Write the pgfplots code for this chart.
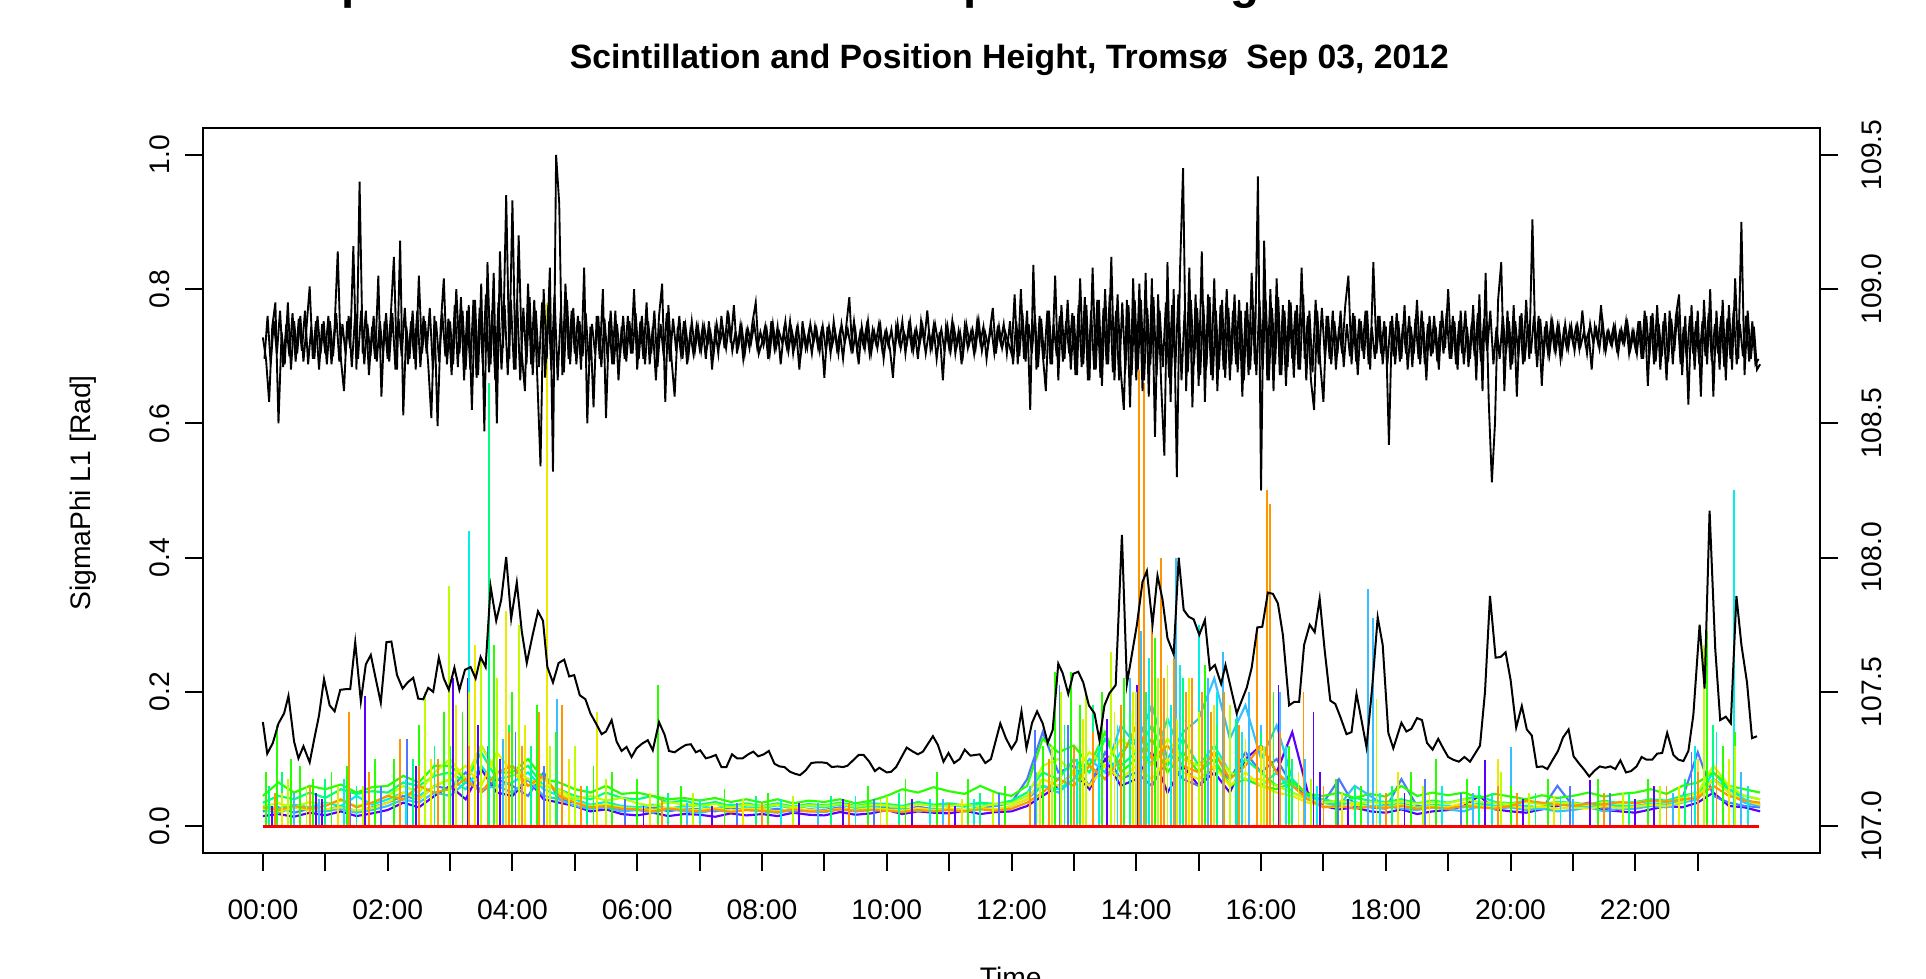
\documentclass[border=0pt]{standalone}
\usepackage{fontspec}
\setmainfont{Liberation Sans}
\usepackage{pgfplots}
\pgfplotsset{compat=1.18}

\definecolor{cV}{RGB}{90,0,255}
\definecolor{cB}{RGB}{75,120,255}
\definecolor{cS}{RGB}{56,190,255}
\definecolor{cC}{RGB}{0,240,230}
\definecolor{cP}{RGB}{0,255,128}
\definecolor{cG}{RGB}{40,255,0}
\definecolor{cL}{RGB}{190,255,0}
\definecolor{cY}{RGB}{235,235,0}
\definecolor{cO}{RGB}{255,150,0}

\pgfplotsset{
 rframe/.style={at={(0pt,0pt)},anchor=south west,scale only axis,
  width=606.375pt,height=271.875pt,xmin=-0.96,xmax=24.96,
  tick align=outside,major tick length=6.75pt,
  tick style={line width=0.75pt,black},
  axis line style={-,line width=1.1pt},
  tick label style={font=\fontsize{10.6}{12}\selectfont}},
 base/.style={line width=0.8pt},
 spk/.style={ycomb,line width=0.7pt},
}

\begin{document}
\begin{tikzpicture}
\path[use as bounding box] (-76.125pt,-47.25pt) rectangle (646.125pt,319.875pt);

% sigma phi per satellite, smooth reference line, zero line
\begin{axis}[rframe,
 ymin=-0.04,ymax=1.04,
 xtick={0,...,23},
 xticklabels={00:00,,02:00,,04:00,,06:00,,08:00,,10:00,,12:00,,14:00,,16:00,,18:00,,20:00,,22:00,},
 xticklabel style={yshift=-7.35pt},
 xtick pos=left,ytick pos=left,
 ytick={0,0.2,0.4,0.6,0.8,1},
 yticklabel style={xshift=-2.25pt,rotate=90,anchor=south,
  /pgf/number format/fixed,/pgf/number format/fixed zerofill,
  /pgf/number format/precision=1,/pgf/number format/assume math mode=true},
]
\addplot[base,cV] table[x expr=\coordindex*0.25,y index=0,header=false,row sep=\\]{
.015\\.018\\.014\\.020\\.016\\.022\\.015\\.019\\.024\\.035\\.028\\.045\\.060\\.040\\.085\\.050\\.045\\.070\\.040\\.035\\.030\\.022\\.025\\.018\\
.016\\.020\\.015\\.018\\.017\\.014\\.019\\.016\\.018\\.015\\.020\\.017\\.016\\.021\\.017\\.019\\.024\\.018\\.022\\.020\\.019\\.023\\.018\\.021\\
.022\\.030\\.045\\.060\\.080\\.055\\.100\\.060\\.070\\.110\\.050\\.090\\.060\\.080\\.050\\.100\\.120\\.080\\.140\\.050\\.030\\.025\\.028\\.022\\
.020\\.025\\.018\\.022\\.024\\.030\\.045\\.025\\.022\\.020\\.025\\.030\\.035\\.028\\.024\\.022\\.020\\.025\\.030\\.028\\.035\\.050\\.030\\.028\\.022\\
};
\addplot[base,cB] table[x expr=\coordindex*0.25,y index=0,header=false,row sep=\\]{
.022\\.028\\.020\\.026\\.024\\.030\\.022\\.028\\.035\\.045\\.040\\.060\\.055\\.080\\.050\\.070\\.060\\.045\\.080\\.040\\.035\\.028\\.030\\.025\\
.024\\.028\\.022\\.026\\.025\\.022\\.027\\.024\\.023\\.026\\.021\\.025\\.024\\.028\\.022\\.026\\.027\\.023\\.029\\.025\\.026\\.024\\.028\\.030\\
.035\\.070\\.140\\.080\\.090\\.060\\.110\\.070\\.080\\.060\\.100\\.070\\.060\\.090\\.070\\.110\\.080\\.100\\.060\\.045\\.035\\.070\\.030\\.028\\
.026\\.070\\.030\\.028\\.026\\.030\\.028\\.035\\.030\\.027\\.025\\.060\\.030\\.035\\.026\\.030\\.028\\.032\\.030\\.040\\.110\\.045\\.035\\.030\\.028\\
};
\addplot[base,cS] table[x expr=\coordindex*0.25,y index=0,header=false,row sep=\\]{
.025\\.020\\.028\\.024\\.022\\.026\\.020\\.024\\.030\\.040\\.035\\.050\\.045\\.065\\.055\\.060\\.050\\.070\\.045\\.040\\.030\\.026\\.028\\.022\\
.024\\.020\\.026\\.022\\.020\\.024\\.021\\.025\\.022\\.020\\.024\\.022\\.021\\.025\\.022\\.024\\.023\\.027\\.022\\.026\\.024\\.022\\.026\\.024\\
.030\\.040\\.060\\.050\\.070\\.100\\.080\\.150\\.120\\.180\\.100\\.140\\.160\\.220\\.130\\.180\\.100\\.150\\.070\\.045\\.035\\.030\\.060\\.045\\
.030\\.026\\.024\\.028\\.025\\.022\\.030\\.026\\.028\\.024\\.026\\.022\\.024\\.028\\.022\\.026\\.026\\.030\\.028\\.035\\.040\\.070\\.050\\.035\\.030\\
};
\addplot[base,cC] table[x expr=\coordindex*0.25,y index=0,header=false,row sep=\\]{
.030\\.026\\.032\\.028\\.035\\.030\\.045\\.032\\.040\\.050\\.045\\.060\\.070\\.055\\.090\\.060\\.065\\.080\\.055\\.045\\.040\\.032\\.036\\.030\\
.028\\.032\\.026\\.030\\.030\\.026\\.032\\.028\\.027\\.031\\.026\\.030\\.028\\.032\\.027\\.030\\.030\\.028\\.034\\.030\\.032\\.029\\.034\\.031\\
.035\\.045\\.060\\.055\\.070\\.090\\.070\\.110\\.130\\.090\\.160\\.100\\.090\\.120\\.080\\.070\\.060\\.080\\.050\\.040\\.035\\.032\\.036\\.030\\
.030\\.034\\.028\\.032\\.030\\.028\\.034\\.030\\.032\\.030\\.028\\.034\\.031\\.029\\.033\\.030\\.030\\.034\\.032\\.038\\.045\\.080\\.055\\.040\\.032\\
};
\addplot[base,cP] table[x expr=\coordindex*0.25,y index=0,header=false,row sep=\\]{
.035\\.045\\.040\\.050\\.042\\.055\\.048\\.052\\.050\\.065\\.060\\.075\\.080\\.065\\.110\\.070\\.075\\.090\\.060\\.055\\.045\\.040\\.050\\.042\\
.040\\.045\\.035\\.038\\.032\\.036\\.030\\.034\\.030\\.034\\.029\\.033\\.031\\.035\\.030\\.034\\.033\\.030\\.036\\.032\\.034\\.031\\.035\\.033\\
.038\\.050\\.080\\.070\\.100\\.080\\.130\\.090\\.110\\.150\\.090\\.130\\.090\\.110\\.070\\.100\\.080\\.060\\.070\\.045\\.040\\.035\\.042\\.038\\
.036\\.040\\.034\\.038\\.035\\.040\\.045\\.036\\.034\\.038\\.033\\.036\\.035\\.032\\.038\\.034\\.036\\.040\\.038\\.045\\.050\\.070\\.055\\.045\\.040\\
};
\addplot[base,cG] table[x expr=\coordindex*0.25,y index=0,header=false,row sep=\\]{
.045\\.065\\.050\\.060\\.055\\.062\\.050\\.058\\.060\\.075\\.065\\.090\\.090\\.070\\.120\\.080\\.080\\.100\\.070\\.065\\.055\\.050\\.060\\.048\\
.050\\.045\\.040\\.042\\.038\\.042\\.036\\.040\\.035\\.040\\.034\\.038\\.036\\.040\\.034\\.038\\.045\\.055\\.050\\.058\\.052\\.048\\.060\\.050\\
.045\\.060\\.130\\.110\\.120\\.090\\.140\\.080\\.100\\.130\\.080\\.110\\.080\\.100\\.060\\.070\\.060\\.055\\.065\\.048\\.045\\.050\\.042\\.048\\
.044\\.060\\.045\\.050\\.046\\.050\\.042\\.048\\.044\\.040\\.046\\.042\\.045\\.050\\.044\\.048\\.050\\.055\\.048\\.060\\.065\\.080\\.060\\.055\\.050\\
};
\addplot[base,cL] table[x expr=\coordindex*0.25,y index=0,header=false,row sep=\\]{
.030\\.034\\.028\\.036\\.032\\.038\\.030\\.035\\.045\\.060\\.050\\.080\\.100\\.070\\.120\\.080\\.090\\.070\\.060\\.055\\.040\\.045\\.038\\.042\\
.034\\.030\\.036\\.032\\.030\\.033\\.028\\.032\\.029\\.032\\.028\\.031\\.030\\.033\\.029\\.032\\.031\\.028\\.033\\.030\\.030\\.032\\.029\\.033\\
.034\\.045\\.090\\.100\\.080\\.110\\.090\\.130\\.110\\.090\\.130\\.100\\.090\\.110\\.080\\.070\\.070\\.060\\.050\\.040\\.035\\.038\\.034\\.036\\
.034\\.037\\.033\\.036\\.034\\.040\\.036\\.034\\.033\\.036\\.032\\.035\\.034\\.031\\.036\\.033\\.035\\.038\\.036\\.042\\.050\\.090\\.060\\.045\\.040\\
};
\addplot[base,cY] table[x expr=\coordindex*0.25,y index=0,header=false,row sep=\\]{
.026\\.022\\.028\\.024\\.025\\.028\\.023\\.027\\.035\\.050\\.040\\.060\\.070\\.090\\.060\\.110\\.080\\.060\\.070\\.050\\.035\\.030\\.032\\.028\\
.026\\.024\\.028\\.025\\.024\\.027\\.023\\.026\\.025\\.022\\.026\\.024\\.023\\.026\\.024\\.027\\.025\\.023\\.027\\.024\\.026\\.024\\.027\\.025\\
.030\\.040\\.070\\.060\\.080\\.060\\.090\\.070\\.090\\.070\\.100\\.080\\.070\\.090\\.060\\.080\\.060\\.050\\.045\\.035\\.030\\.028\\.032\\.029\\
.028\\.032\\.027\\.030\\.028\\.035\\.030\\.028\\.030\\.027\\.029\\.026\\.028\\.026\\.030\\.027\\.029\\.032\\.030\\.036\\.045\\.070\\.050\\.038\\.032\\
};
\addplot[base,cO] table[x expr=\coordindex*0.25,y index=0,header=false,row sep=\\]{
.028\\.024\\.030\\.026\\.030\\.040\\.028\\.035\\.045\\.040\\.060\\.050\\.055\\.070\\.050\\.080\\.090\\.060\\.075\\.045\\.035\\.028\\.030\\.026\\
.025\\.022\\.026\\.024\\.022\\.025\\.021\\.024\\.023\\.021\\.025\\.022\\.022\\.025\\.023\\.024\\.023\\.021\\.024\\.022\\.024\\.022\\.025\\.023\\
.026\\.035\\.050\\.070\\.060\\.090\\.070\\.100\\.150\\.100\\.120\\.090\\.080\\.110\\.070\\.090\\.120\\.080\\.060\\.040\\.028\\.030\\.026\\.029\\
.027\\.030\\.026\\.028\\.026\\.030\\.028\\.026\\.030\\.038\\.035\\.032\\.030\\.034\\.032\\.036\\.034\\.038\\.036\\.040\\.042\\.060\\.045\\.038\\.035\\
};
% single-sample spikes
\addplot[spk,cV] coordinates {(0.15,.03)(0.85,.05)(0.95,.04)(1.64,.194)(1.9,.035)(2.45,.09)(2.7,.06)(3.05,.22)(3.28,.22)(3.45,.15)(3.8,.1)(4.3,.09)(4.6,.07)(5.1,.06)(6.1,.03)(7.2,.03)(8.6,.035)(9.3,.04)(10.4,.04)(11.1,.03)(12.5,.06)(12.95,.08)(13.1,.12)(13.53,.16)(13.9,.1)(14.01,.21)(14.4,.14)(14.9,.12)(15.2,.12)(15.5,.1)(15.8,.15)(16.09,.26)(16.28,.21)(16.84,.17)(16.94,.08)(17.4,.04)(18.3,.05)(18.9,.05)(19.59,.098)(20.2,.04)(21.27,.068)(22.0,.04)(22.3,.06)(23.1,.06)(23.4,.07)};
\addplot[spk,cB] coordinates {(0.6,.04)(1.4,.05)(1.9,.06)(2.31,.13)(2.9,.08)(3.3,.1)(3.6,.12)(4.05,.14)(4.5,.09)(5.8,.04)(7.6,.035)(9.8,.04)(11.8,.05)(12.37,.143)(12.77,.21)(12.9,.15)(13.2,.12)(13.7,.14)(14.2,.18)(14.45,.15)(15.0,.16)(15.2,.1)(15.6,.12)(16.2,.1)(16.5,.09)(17.23,.07)(17.6,.05)(18.63,.07)(19.2,.05)(20.95,.06)(21.6,.05)(22.9,.11)(23.5,.07)(23.8,.06)};
\addplot[spk,cS] coordinates {(0.5,.05)(0.9,.04)(2.1,.06)(3.1,.1)(3.85,.13)(4.71,.19)(5.3,.05)(6.8,.035)(8.9,.035)(10.9,.04)(12.3,.06)(13.2,.16)(13.6,.2)(13.9,.22)(14.07,.29)(14.3,.24)(14.64,.40)(14.9,.18)(15.15,.22)(15.39,.26)(15.62,.17)(15.8,.2)(16.0,.15)(16.3,.2)(16.7,.1)(17.71,.353)(17.79,.31)(18.4,.05)(19.4,.05)(20.0,.118)(21.0,.04)(22.6,.05)(23.3,.1)(23.7,.08)};
\addplot[spk,cC] coordinates {(0.4,.05)(1.3,.07)(1.7,.05)(2.3,.07)(2.6,.08)(3.31,.44)(3.7,.12)(4.2,.1)(4.6,.1)(5.5,.05)(7.0,.04)(8.3,.04)(9.5,.045)(10.7,.04)(11.4,.04)(12.6,.08)(13.05,.1)(13.4,.12)(13.7,.15)(14.2,.25)(14.55,.18)(14.7,.24)(15.0,.3)(15.3,.2)(15.7,.14)(16.4,.12)(16.9,.06)(17.9,.05)(18.9,.06)(19.7,.05)(20.8,.045)(22.2,.05)(22.95,.12)(23.3,.14)(23.58,.50)(23.8,.06)};
\addplot[spk,cP] coordinates {(0.1,.06)(0.3,.08)(1.0,.07)(1.5,.06)(2.4,.1)(2.75,.12)(3.0,.12)(3.62,.66)(3.95,.15)(4.3,.12)(4.9,.1)(5.2,.06)(6.5,.05)(7.9,.045)(9.1,.045)(10.2,.05)(11.5,.05)(12.4,.08)(12.85,.15)(13.3,.18)(13.9,.17)(14.15,.2)(14.4,.24)(14.75,.22)(15.3,.15)(15.6,.16)(16.0,.14)(16.5,.1)(17.5,.06)(18.1,.06)(19.5,.06)(20.4,.05)(21.9,.05)(22.8,.07)(23.25,.15)(23.4,.1)};
\addplot[spk,cG] coordinates {(0.05,.08)(0.23,.15)(0.45,.1)(0.6,.09)(0.8,.07)(1.1,.08)(1.35,.09)(1.8,.1)(2.1,.1)(2.5,.15)(2.9,.17)(3.2,.17)(3.7,.27)(4.0,.2)(4.4,.18)(4.7,.14)(5.3,.09)(5.6,.08)(6.0,.07)(6.33,.21)(6.7,.06)(7.4,.055)(8.1,.05)(9.7,.06)(10.3,.07)(10.8,.08)(11.3,.07)(11.9,.06)(12.5,.12)(12.7,.23)(12.95,.23)(13.1,.18)(13.45,.2)(13.8,.22)(14.3,.28)(14.6,.18)(15.1,.24)(15.5,.17)(16.2,.2)(16.45,.12)(17.2,.07)(17.6,.06)(18.4,.08)(18.8,.10)(19.3,.07)(20.0,.06)(20.6,.07)(21.4,.07)(22.2,.07)(22.5,.06)(23.15,.29)(23.4,.12)(23.6,.14)};
\addplot[spk,cL] coordinates {(0.4,.07)(0.7,.06)(1.6,.06)(2.2,.1)(2.6,.2)(2.98,.357)(3.3,.2)(3.5,.25)(3.75,.22)(4.1,.3)(4.6,.12)(5.0,.12)(5.5,.07)(6.9,.05)(8.5,.045)(10.0,.045)(11.7,.05)(12.65,.12)(12.8,.2)(13.2,.2)(13.6,.26)(14.0,.2)(14.35,.22)(14.5,.24)(15.0,.17)(15.5,.18)(16.05,.12)(16.8,.07)(17.85,.19)(18.6,.06)(19.85,.08)(20.3,.05)(21.8,.05)(22.4,.06)(23.1,.27)(23.6,.12)};
\addplot[spk,cY] coordinates {(0.3,.05)(1.2,.06)(2.2,.12)(2.7,.1)(3.1,.18)(3.4,.27)(3.9,.32)(4.2,.15)(4.55,.78)(4.9,.1)(5.36,.17)(6.2,.05)(7.7,.04)(9.9,.04)(11.2,.04)(12.45,.07)(13.15,.16)(13.65,.17)(13.95,.2)(14.25,.2)(14.65,.16)(14.85,.22)(15.25,.18)(15.75,.13)(16.0,.12)(16.6,.08)(17.3,.05)(18.2,.08)(18.7,.05)(19.8,.1)(20.7,.045)(22.7,.06)(23.0,.1)(23.5,.1)};
\addplot[spk,cO] coordinates {(0.2,.05)(0.75,.06)(1.38,.17)(1.7,.08)(2.2,.13)(2.5,.09)(2.8,.1)(3.3,.12)(3.6,.1)(3.95,.14)(4.15,.12)(4.42,.17)(4.8,.18)(5.1,.06)(6.4,.04)(8.0,.035)(9.4,.035)(11.0,.035)(12.3,.05)(12.6,.1)(13.0,.12)(13.3,.14)(13.75,.18)(14.05,.68)(14.13,.66)(14.25,.3)(14.39,.40)(14.45,.22)(14.6,.25)(14.8,.2)(14.9,.22)(15.05,.2)(15.2,.17)(15.4,.2)(15.65,.15)(15.94,.29)(16.09,.50)(16.14,.48)(16.3,.14)(16.68,.20)(17.0,.06)(18.0,.05)(19.8,.06)(20.1,.05)(21.5,.05)(22.5,.06)(23.0,.08)(23.3,.09)};
% smoothed black curve
\addplot[black,line width=0.75pt] table[row sep=\\]{
x y\\
0.00 .155\\0.07 .108\\0.16 .124\\0.25 .153\\0.34 .168\\0.41 .194\\0.50 .126\\0.57 .101\\0.65 .119\\0.75 .095\\
0.83 .133\\0.90 .165\\0.98 .219\\1.07 .180\\1.15 .171\\1.24 .203\\1.32 .204\\1.40 .204\\1.48 .274\\1.57 .186\\
1.65 .241\\1.73 .255\\1.81 .219\\1.89 .184\\1.98 .274\\2.06 .275\\2.15 .225\\2.24 .205\\2.32 .214\\2.41 .221\\
2.49 .190\\2.57 .189\\2.65 .206\\2.73 .200\\2.82 .251\\2.90 .220\\2.98 .203\\3.07 .236\\3.15 .203\\3.24 .233\\
3.33 .237\\3.41 .220\\3.49 .252\\3.57 .237\\3.65 .357\\3.74 .306\\3.82 .337\\3.90 .401\\3.98 .309\\4.07 .363\\
4.15 .290\\4.23 .243\\4.32 .283\\4.41 .320\\4.49 .306\\4.56 .237\\4.65 .214\\4.74 .243\\4.83 .248\\4.91 .223\\
4.99 .225\\5.08 .195\\5.17 .189\\5.25 .168\\5.34 .153\\5.43 .137\\5.50 .141\\5.59 .158\\5.67 .126\\5.75 .112\\
5.83 .118\\5.91 .103\\5.99 .116\\6.08 .123\\6.17 .128\\6.25 .113\\6.35 .155\\6.44 .136\\6.51 .112\\6.60 .110\\
6.69 .116\\6.78 .121\\6.86 .122\\6.94 .110\\7.01 .113\\7.10 .101\\7.18 .103\\7.26 .106\\7.35 .088\\7.43 .088\\
7.52 .107\\7.60 .101\\7.69 .101\\7.78 .107\\7.86 .111\\7.94 .104\\8.03 .107\\8.11 .112\\8.20 .093\\8.28 .089\\
8.36 .088\\8.45 .081\\8.53 .078\\8.61 .076\\8.70 .083\\8.79 .094\\8.87 .095\\8.96 .095\\9.04 .094\\9.12 .088\\
9.21 .089\\9.30 .088\\9.37 .090\\9.46 .098\\9.55 .106\\9.63 .106\\9.72 .096\\9.81 .082\\9.88 .087\\10.00 .080\\
10.07 .081\\10.15 .088\\10.32 .117\\10.42 .111\\10.50 .107\\10.58 .111\\10.74 .134\\10.82 .121\\10.91 .096\\10.99 .109\\
11.08 .094\\11.17 .100\\11.25 .114\\11.34 .105\\11.49 .107\\11.58 .094\\11.67 .100\\11.82 .153\\11.91 .131\\12.00 .115\\
12.08 .127\\12.16 .171\\12.24 .116\\12.33 .154\\12.41 .171\\12.50 .153\\12.58 .124\\12.66 .143\\12.75 .242\\12.82 .228\\
12.91 .197\\12.99 .227\\13.07 .230\\13.15 .214\\13.24 .180\\13.33 .168\\13.41 .128\\13.49 .180\\13.57 .198\\13.67 .210\\
13.77 .434\\13.85 .212\\14.01 .300\\14.10 .364\\14.17 .380\\14.26 .300\\14.34 .373\\14.42 .338\\14.50 .280\\14.60 .256\\
14.68 .400\\14.76 .322\\14.84 .312\\14.92 .308\\15.01 .285\\15.10 .307\\15.18 .233\\15.26 .240\\15.36 .212\\15.43 .240\\
15.52 .204\\15.61 .168\\15.69 .187\\15.77 .206\\15.85 .236\\15.94 .296\\16.02 .297\\16.11 .348\\16.19 .346\\16.27 .332\\
16.35 .285\\16.45 .180\\16.53 .185\\16.61 .185\\16.69 .270\\16.78 .300\\16.86 .289\\16.94 .339\\17.02 .262\\17.11 .187\\
17.19 .182\\17.27 .163\\17.37 .137\\17.45 .140\\17.53 .197\\17.61 .158\\17.69 .118\\17.78 .205\\17.87 .311\\17.95 .270\\
18.04 .139\\18.12 .116\\18.25 .154\\18.33 .141\\18.41 .145\\18.50 .161\\18.58 .158\\18.66 .124\\18.75 .114\\18.84 .130\\
18.92 .116\\19.00 .103\\19.08 .099\\19.17 .096\\19.26 .103\\19.35 .096\\19.43 .108\\19.51 .120\\19.59 .200\\19.67 .343\\
19.76 .251\\19.84 .252\\19.92 .259\\20.00 .218\\20.09 .147\\20.18 .179\\20.26 .144\\20.34 .135\\20.42 .088\\20.51 .089\\
20.59 .085\\20.67 .098\\20.76 .112\\20.84 .132\\20.93 .144\\21.01 .104\\21.10 .093\\21.18 .084\\21.26 .074\\21.35 .083\\
21.43 .089\\21.52 .087\\21.60 .089\\21.68 .085\\21.76 .098\\21.85 .080\\21.93 .082\\22.02 .089\\22.10 .103\\22.18 .099\\
22.27 .099\\22.35 .108\\22.43 .109\\22.51 .139\\22.61 .106\\22.69 .099\\22.77 .097\\22.85 .112\\22.93 .166\\23.03 .300\\
23.11 .205\\23.19 .470\\23.28 .265\\23.36 .158\\23.45 .163\\23.53 .153\\23.62 .343\\23.70 .270\\23.79 .214\\23.87 .131\\
23.95 .134\\
};
\addplot[red,line width=1.2pt] coordinates {(0,0) (23.98,0)};
\end{axis}

% position height on the right-hand axis
\begin{axis}[rframe,
 ymin=106.9,ymax=109.6,
 axis x line=none,axis y line*=right,
 ytick={107,107.5,108,108.5,109,109.5},
 yticklabel style={xshift=5.5pt,rotate=90,anchor=north,
  /pgf/number format/fixed,/pgf/number format/fixed zerofill,
  /pgf/number format/precision=1,/pgf/number format/assume math mode=true},
]
\addplot[black,line width=0.7pt] table[x expr=\coordindex*0.05,y index=0,header=false,row sep=\\]{
108.82\\108.74\\108.58\\108.86\\108.95\\108.50\\108.84\\108.72\\108.95\\108.70\\108.88\\108.76\\108.90\\108.73\\108.86\\109.01\\108.74\\108.88\\108.70\\108.87\\
108.76\\108.90\\108.72\\108.86\\109.14\\108.74\\108.62\\108.88\\108.78\\109.16\\108.70\\109.40\\108.76\\108.92\\108.68\\108.86\\108.74\\109.05\\108.60\\108.88\\
108.74\\108.90\\109.12\\108.70\\109.18\\108.53\\108.86\\108.74\\108.92\\108.70\\109.05\\108.76\\108.88\\108.72\\108.52\\108.90\\108.49\\108.86\\109.04\\108.72\\
108.88\\108.72\\109.00\\108.76\\108.92\\108.70\\108.94\\108.55\\108.96\\108.68\\109.02\\108.47\\109.10\\108.72\\109.06\\108.50\\109.14\\108.78\\109.35\\108.74\\
109.33\\108.70\\109.20\\108.76\\108.62\\109.02\\108.72\\108.96\\108.66\\108.34\\109.00\\108.74\\109.08\\108.32\\109.50\\109.32\\108.68\\109.02\\108.74\\108.92\\
108.76\\108.90\\108.70\\109.08\\108.50\\108.86\\108.56\\108.90\\108.74\\109.00\\108.52\\108.88\\108.72\\108.92\\108.66\\108.86\\108.74\\108.90\\108.76\\109.00\\
108.70\\108.88\\108.74\\108.95\\108.72\\108.86\\108.66\\108.90\\109.02\\108.58\\108.94\\108.74\\108.60\\108.86\\108.76\\108.88\\108.72\\108.84\\108.76\\108.86\\
108.78\\108.86\\108.74\\108.88\\108.70\\108.85\\108.76\\108.90\\108.78\\108.92\\108.80\\108.94\\108.76\\108.86\\108.74\\108.84\\108.78\\108.88\\108.95\\108.76\\
108.80\\108.86\\108.74\\108.88\\108.78\\108.86\\108.72\\108.84\\108.78\\108.88\\108.76\\108.84\\108.70\\108.88\\108.78\\108.84\\108.76\\108.86\\108.78\\108.84\\
108.67\\108.86\\108.76\\108.88\\108.78\\108.84\\108.74\\108.86\\108.97\\108.76\\108.84\\108.72\\108.86\\108.78\\108.88\\108.76\\108.84\\108.78\\108.86\\108.74\\
108.84\\108.78\\108.67\\108.86\\108.80\\108.88\\108.76\\108.86\\108.78\\108.84\\108.74\\108.88\\108.80\\108.92\\108.78\\108.86\\108.74\\108.84\\108.66\\108.86\\
108.78\\108.88\\108.76\\108.84\\108.72\\108.86\\108.78\\108.84\\108.76\\108.88\\108.80\\108.86\\108.74\\108.84\\108.93\\108.76\\108.86\\108.78\\108.84\\108.80\\
108.76\\108.98\\108.72\\109.00\\108.74\\108.92\\108.55\\109.09\\108.70\\108.90\\108.76\\108.62\\108.92\\108.72\\109.05\\108.66\\108.94\\108.74\\108.96\\108.70\\
108.90\\108.68\\109.04\\108.72\\108.94\\108.66\\109.08\\108.70\\108.96\\108.64\\109.00\\108.72\\109.12\\108.66\\108.98\\108.70\\108.55\\108.96\\108.56\\109.04\\
108.66\\109.02\\108.62\\109.06\\108.60\\109.04\\108.45\\108.98\\108.64\\108.38\\109.10\\108.58\\109.00\\108.30\\109.06\\109.45\\108.62\\109.08\\108.56\\108.98\\
108.64\\109.14\\108.58\\108.98\\108.68\\109.04\\108.62\\108.94\\108.70\\109.00\\108.66\\108.92\\108.72\\108.96\\108.60\\108.92\\108.68\\109.06\\108.72\\109.42\\
108.25\\109.18\\108.66\\109.00\\108.62\\109.04\\108.68\\108.94\\108.64\\108.96\\108.74\\108.92\\108.70\\109.08\\108.74\\108.90\\108.66\\108.55\\108.92\\108.72\\
108.58\\108.90\\108.74\\108.92\\108.70\\108.86\\108.76\\108.94\\109.05\\108.72\\108.90\\108.68\\108.88\\108.74\\108.92\\108.70\\109.10\\108.76\\108.90\\108.72\\
108.86\\108.42\\108.90\\108.72\\108.88\\108.74\\108.94\\108.70\\108.86\\108.76\\108.96\\108.72\\108.88\\108.66\\108.90\\108.76\\108.86\\108.70\\108.92\\108.78\\
109.00\\108.74\\108.88\\108.70\\108.92\\108.72\\108.86\\108.74\\108.94\\108.66\\108.98\\108.62\\109.06\\108.58\\108.28\\108.50\\108.96\\109.10\\108.62\\108.92\\
108.70\\108.94\\108.60\\108.90\\108.72\\108.96\\108.74\\109.26\\108.76\\108.90\\108.64\\108.86\\108.76\\108.88\\108.78\\108.86\\108.74\\108.84\\108.78\\108.86\\
108.80\\108.86\\108.78\\108.92\\108.80\\108.84\\108.70\\108.86\\108.80\\108.94\\108.78\\108.84\\108.80\\108.86\\108.78\\108.84\\108.80\\108.88\\108.76\\108.84\\
108.78\\108.88\\108.74\\108.92\\108.64\\108.90\\108.72\\108.94\\108.70\\108.88\\108.66\\108.92\\108.72\\108.90\\108.98\\108.68\\108.90\\108.57\\108.94\\108.70\\
108.92\\108.60\\108.96\\108.72\\109.00\\108.60\\108.92\\108.70\\108.96\\108.66\\108.94\\108.70\\109.04\\108.74\\109.25\\108.68\\108.92\\108.74\\108.86\\108.70\\108.72\\
};
% in-between samples (denser core of the height trace)
\addplot[black,line width=0.7pt] table[x expr=0.025+\coordindex*0.05,y index=0,header=false,row sep=\\]{
108.74\\108.90\\108.72\\108.88\\108.76\\108.92\\108.71\\108.87\\108.75\\108.91\\108.73\\108.89\\108.77\\108.92\\108.72\\108.86\\108.74\\108.90\\108.76\\108.88\\
108.72\\108.88\\108.75\\108.91\\108.73\\108.87\\108.76\\108.90\\108.71\\108.89\\108.74\\108.92\\108.72\\108.87\\108.75\\108.90\\108.73\\108.88\\108.76\\108.91\\
108.73\\108.91\\108.70\\108.89\\108.75\\108.93\\108.72\\108.88\\108.74\\108.92\\108.71\\108.90\\108.76\\108.93\\108.70\\108.88\\108.73\\108.91\\108.75\\108.89\\
108.68\\108.94\\108.71\\108.97\\108.66\\108.92\\108.70\\108.96\\108.67\\108.93\\108.72\\108.98\\108.69\\108.92\\108.66\\108.95\\108.70\\108.94\\108.68\\108.96\\
108.70\\108.96\\108.66\\108.93\\108.72\\108.97\\108.68\\108.92\\108.71\\108.95\\108.67\\108.94\\108.70\\108.98\\108.66\\108.92\\108.69\\108.96\\108.72\\108.93\\
108.72\\108.88\\108.75\\108.91\\108.73\\108.87\\108.76\\108.90\\108.71\\108.89\\108.74\\108.92\\108.72\\108.87\\108.75\\108.90\\108.73\\108.88\\108.76\\108.91\\
108.74\\108.90\\108.72\\108.88\\108.76\\108.92\\108.71\\108.87\\108.75\\108.91\\108.73\\108.89\\108.77\\108.90\\108.74\\108.86\\108.76\\108.88\\108.77\\108.86\\
108.77\\108.86\\108.79\\108.84\\108.76\\108.87\\108.80\\108.85\\108.78\\108.88\\108.77\\108.84\\108.79\\108.86\\108.76\\108.85\\108.80\\108.87\\108.78\\108.84\\
108.79\\108.85\\108.76\\108.87\\108.78\\108.84\\108.80\\108.88\\108.77\\108.85\\108.79\\108.86\\108.76\\108.84\\108.78\\108.87\\108.80\\108.85\\108.77\\108.86\\
108.77\\108.86\\108.79\\108.84\\108.76\\108.87\\108.80\\108.85\\108.78\\108.88\\108.77\\108.84\\108.79\\108.86\\108.76\\108.85\\108.80\\108.87\\108.78\\108.84\\
108.79\\108.85\\108.76\\108.87\\108.78\\108.84\\108.80\\108.88\\108.77\\108.85\\108.79\\108.86\\108.76\\108.84\\108.78\\108.87\\108.80\\108.85\\108.77\\108.86\\
108.77\\108.86\\108.79\\108.84\\108.76\\108.87\\108.80\\108.85\\108.78\\108.88\\108.77\\108.84\\108.79\\108.86\\108.76\\108.85\\108.80\\108.87\\108.76\\108.88\\
108.72\\108.88\\108.75\\108.91\\108.73\\108.87\\108.76\\108.90\\108.71\\108.89\\108.74\\108.92\\108.72\\108.87\\108.75\\108.90\\108.73\\108.88\\108.76\\108.91\\
108.68\\108.94\\108.71\\108.97\\108.66\\108.92\\108.70\\108.96\\108.67\\108.93\\108.72\\108.98\\108.69\\108.92\\108.66\\108.95\\108.70\\108.94\\108.68\\108.96\\
108.70\\108.96\\108.66\\108.93\\108.72\\108.97\\108.68\\108.92\\108.71\\108.95\\108.67\\108.94\\108.70\\108.98\\108.66\\108.92\\108.69\\108.96\\108.72\\108.93\\
108.68\\108.94\\108.71\\108.97\\108.66\\108.92\\108.70\\108.96\\108.67\\108.93\\108.72\\108.98\\108.69\\108.92\\108.66\\108.95\\108.70\\108.94\\108.68\\108.96\\
108.70\\108.96\\108.66\\108.93\\108.72\\108.97\\108.68\\108.92\\108.71\\108.95\\108.67\\108.94\\108.70\\108.98\\108.66\\108.92\\108.69\\108.96\\108.72\\108.93\\
108.74\\108.90\\108.72\\108.88\\108.76\\108.92\\108.71\\108.87\\108.75\\108.91\\108.73\\108.89\\108.77\\108.92\\108.72\\108.86\\108.74\\108.90\\108.76\\108.88\\
108.72\\108.88\\108.75\\108.91\\108.73\\108.87\\108.76\\108.90\\108.71\\108.89\\108.74\\108.92\\108.72\\108.87\\108.75\\108.90\\108.73\\108.88\\108.76\\108.91\\
108.74\\108.90\\108.72\\108.88\\108.76\\108.92\\108.71\\108.87\\108.75\\108.91\\108.73\\108.89\\108.77\\108.92\\108.72\\108.86\\108.74\\108.90\\108.76\\108.88\\
108.72\\108.88\\108.75\\108.91\\108.73\\108.87\\108.76\\108.90\\108.71\\108.89\\108.74\\108.88\\108.76\\108.87\\108.77\\108.86\\108.76\\108.87\\108.78\\108.86\\
108.77\\108.86\\108.79\\108.84\\108.76\\108.87\\108.80\\108.85\\108.78\\108.88\\108.77\\108.84\\108.79\\108.86\\108.76\\108.85\\108.80\\108.87\\108.78\\108.84\\
108.76\\108.88\\108.74\\108.90\\108.75\\108.91\\108.73\\108.87\\108.75\\108.91\\108.73\\108.89\\108.77\\108.92\\108.72\\108.86\\108.74\\108.90\\108.76\\108.88\\
108.72\\108.88\\108.75\\108.91\\108.73\\108.87\\108.76\\108.90\\108.71\\108.89\\108.74\\108.92\\108.72\\108.87\\108.75\\108.90\\108.73\\108.88\\108.72\\108.74\\
};
\end{axis}

\node[anchor=base west,inner sep=0pt,font=\bfseries\fontsize{17.8}{20}\selectfont] at (12.1pt,320.25pt) {Comparison of Scintillation and position height};
\node[anchor=base,inner sep=0pt,font=\bfseries\fontsize{12.65}{15}\selectfont] at (302.4pt,294.3pt) {Scintillation and Position Height, Tromsø\ \ Sep 03, 2012};
\node[rotate=90,inner sep=0pt,font=\fontsize{10.6}{12}\selectfont] at (-45pt,135pt) {SigmaPhi L1 [Rad]};
\node[anchor=north,inner sep=0pt,font=\fontsize{10.6}{12}\selectfont] at (302.9pt,-42.4pt) {Time};
\end{tikzpicture}
\end{document}
